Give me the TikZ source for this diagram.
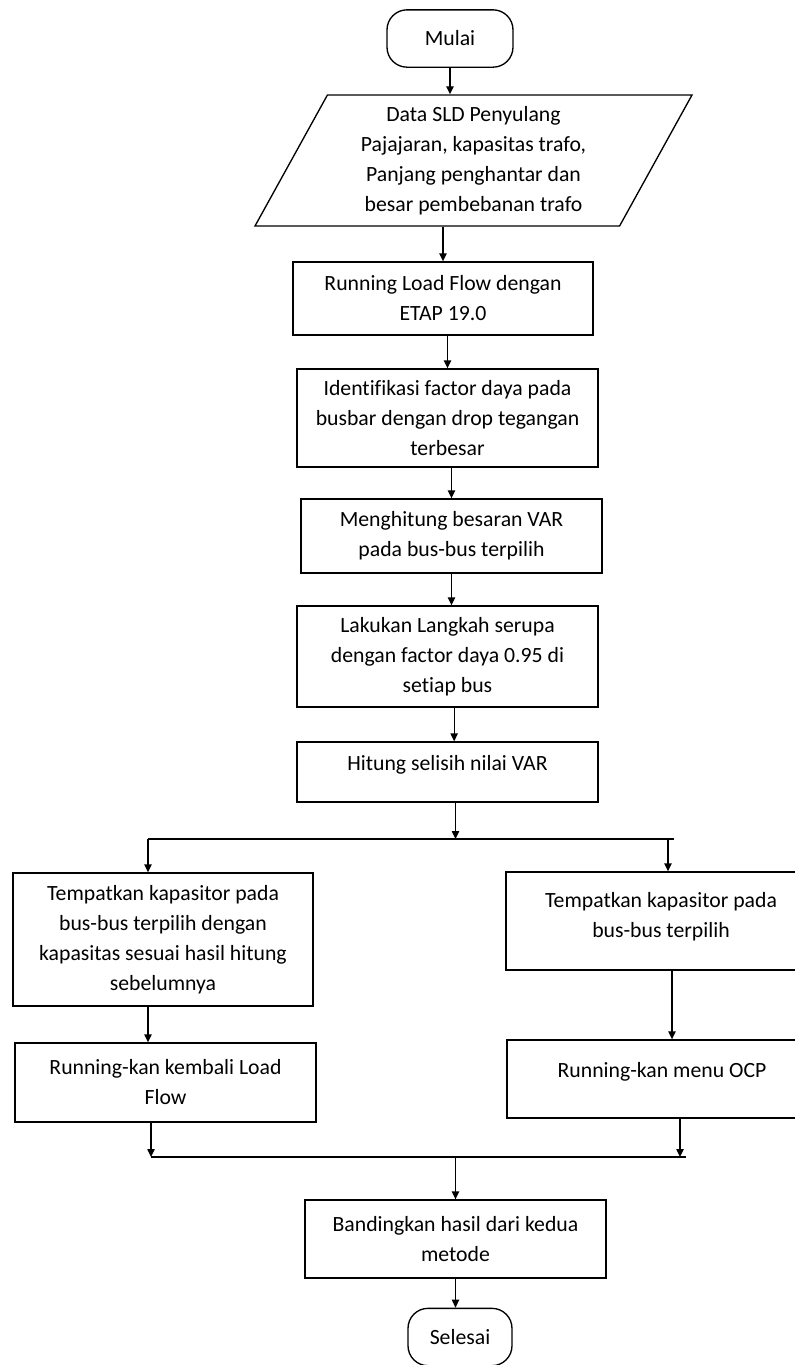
\documentclass[tikz,border=0pt]{standalone}
\usepackage{fontspec}
\setmainfont{Carlito}[Ligatures=NoCommon]
\usetikzlibrary{shapes.geometric,arrows.meta}

\begin{document}
\begin{tikzpicture}[x=0.75pt,y=-0.75pt,line width=1pt,
        kotak/.style={draw,align=center,inner sep=0pt},
        satubaris/.style={text depth=13pt},
        ujung/.style={draw,rounded corners=15pt,minimum width=78pt,minimum height=43pt,inner sep=0pt},
        panah/.style={-{Triangle[length=6pt,width=5.5pt]}}]
        \tikzstyle{every node}+=[font=\fontsize{16.3}{22.5}\selectfont]
        \useasboundingbox (0,0) rectangle (795,1365);
        \clip (0,0) rectangle (795,1365);
        \node [ujung,minimum width=94.5pt] (mulai) at (450,38.5) {Mulai};
        \node [draw,trapezium,trapezium left angle=56.3,trapezium right angle=123.7,trapezium stretches body,minimum width=327.75pt,minimum height=98.25pt,align=center,inner sep=0pt] (data) at (473.5,160.5) {Data SLD Penyulang\\Pajajaran, kapasitas trafo,\\Panjang penghantar dan\\besar pembebanan trafo};
        \node [kotak,minimum width=225pt,minimum height=54.75pt] (run) at (443,298.5) {Running Load Flow dengan\\ETAP 19.0};
        \node [kotak,minimum width=225.75pt,minimum height=73.5pt] (ident) at (447.5,418) {Identifikasi factor daya pada\\busbar dengan drop tegangan\\terbesar};
        \node [kotak,minimum width=225.75pt,minimum height=55.5pt] (hitvar) at (451.5,536) {Menghitung besaran VAR\\pada bus-bus terpilih};
        \node [kotak,minimum width=225.75pt,minimum height=75.75pt] (lakukan) at (447.5,656.5) {Lakukan Langkah serupa\\dengan factor daya 0.95 di\\setiap bus};
        \node [kotak,satubaris,minimum width=225.75pt,minimum height=45pt] (selisih) at (447.5,772) {Hitung selisih nilai VAR};
        \node [kotak,minimum width=225pt,minimum height=99.75pt] (kapkiri) at (163,939.5) {Tempatkan kapasitor pada\\bus-bus terpilih dengan\\kapasitas sesuai hasil hitung\\sebelumnya};
        \node [kotak,text depth=9pt,minimum width=232.5pt,minimum height=73.5pt] (kapkanan) at (661,921) {Tempatkan kapasitor pada\\bus-bus terpilih};
        \node [kotak,minimum width=225.75pt,minimum height=59.25pt] (lfkiri) at (165.5,1082.5) {Running-kan kembali Load\\Flow};
        \node [kotak,satubaris,minimum width=232.5pt,minimum height=58.5pt] (ocp) at (662,1079) {Running-kan menu OCP};
        \node [kotak,minimum width=225.75pt,minimum height=58.5pt] (banding) at (455.5,1239) {Bandingkan hasil dari kedua\\metode};
        \node [ujung] (selesai) at (460,1337) {Selesai};
        \coordinate (kiri) at (148,839);
        \coordinate (kanan) at (674,839);
        \coordinate (gabungkiri) at (151,1157);
        \coordinate (gabungkanan) at (686,1157);
        \draw [panah] (mulai.south) -- (mulai.south |- data.north);
        \draw [panah] (run.north |- data.south) -- (run.north);
        \draw [panah] (ident.north |- run.south) -- (ident.north);
        \draw [panah] (hitvar.north |- ident.south) -- (hitvar.north);
        \draw [panah] (hitvar.south) -- (hitvar.south |- lakukan.north);
        \draw [panah] ([xshift=5pt]selisih.north |- lakukan.south) -- ([xshift=5pt]selisih.north);
        \draw [panah] ([xshift=6pt]selisih.south) -- ([xshift=6pt]selisih.south |- kiri);
        \draw (kiri) -- (kanan);
        \draw [panah] (kiri) -- (kiri |- kapkiri.north);
        \draw [panah] ([xshift=-4.5pt]kanan) -- ([xshift=-4.5pt]kanan |- kapkanan.north);
        \draw [panah] (kiri |- kapkiri.south) -- (kiri |- lfkiri.north);
        \draw [panah] ([xshift=-1.5pt]kanan |- kapkanan.south) -- ([xshift=-1.5pt]kanan |- ocp.north);
        \draw (gabungkiri) -- (gabungkanan);
        \draw [panah] (gabungkiri |- lfkiri.south) -- (gabungkiri);
        \draw [panah] ([xshift=-4.5pt]gabungkanan |- ocp.south) -- ([xshift=-4.5pt]gabungkanan);
        \draw [panah] (banding.north |- gabungkiri) -- (banding.north);
        \draw [panah] (banding.south) -- (banding.south |- selesai.north);
    \end{tikzpicture}
\end{document}
